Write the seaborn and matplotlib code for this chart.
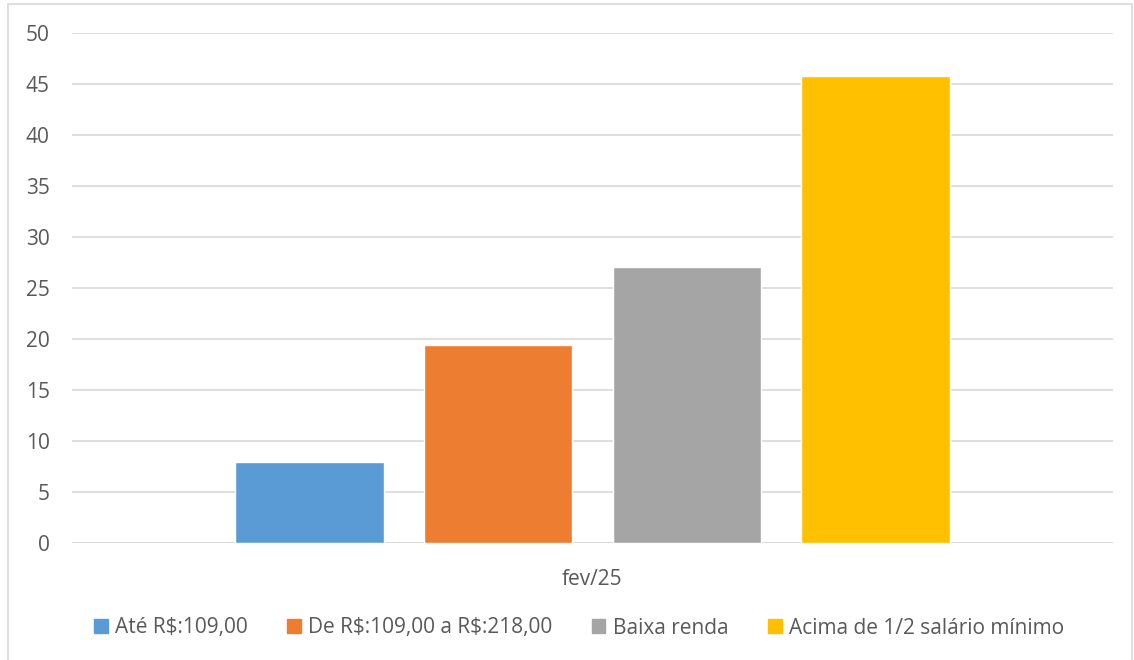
import pandas as pd
import matplotlib.pyplot as plt
import matplotlib.patches as mpatches
import seaborn as sns

# data
categories = ['fev/25']
series = ['Até R$:109,00', 'De R$:109,00 a R$:218,00', 'Baixa renda', 'Acima de 1/2 salário mínimo']
values = [7.9, 19.4, 27.1, 45.8]
colors = ['#5b9bd5', '#ed7d31', '#a5a5a5', '#ffc000']

df = pd.DataFrame({
    'periodo': categories * len(series),
    'serie': series,
    'valor': values,
})

sns.set_theme(style='white')
plt.rcParams['font.family'] = ['Open Sans', 'DejaVu Sans']
plt.rcParams['text.parse_math'] = False  # keep the "$" signs literal

fig = plt.figure(figsize=(11.34, 6.6), dpi=100)
ax = fig.add_axes([72 / 1134, 117 / 660, (1113 - 72) / 1134, (543 - 33) / 660])

sns.barplot(data=df, x='periodo', y='valor', hue='serie', hue_order=series,
            palette=colors, width=0.726, gap=0.212, saturation=1,
            legend=False, ax=ax)

ax.set_xlim(-0.5, 0.5)
ax.set_ylim(0, 50)
ax.set_yticks(range(0, 51, 5))
ax.yaxis.grid(True, color='#d9d9d9', linewidth=1.2)
ax.set_axisbelow(True)
for s in ax.spines.values():
    s.set_visible(False)
ax.axhline(0, color='#d9d9d9', linewidth=1.2, zorder=0)
ax.set_xlabel('')
ax.set_ylabel('')
ax.tick_params(axis='both', length=0, labelsize=15, labelcolor='#595959')
ax.tick_params(axis='y', pad=16)
ax.tick_params(axis='x', pad=19)

handles = [mpatches.Patch(color=c, label=s) for c, s in zip(colors, series)]
fig.legend(handles=handles, loc='center', bbox_to_anchor=(579 / 1134, 1 - 628 / 660),
           ncol=4, frameon=False, fontsize=15, labelcolor='#595959',
           handlelength=0.65, handleheight=0.65, handletextpad=0.35, columnspacing=1.9)

# light frame around the chart area (no bottom edge visible)
fig.patches.append(mpatches.Rectangle((8 / 1134, -0.05), 1124 / 1134, 1.05 - 4 / 660,
                                      transform=fig.transFigure, fill=False,
                                      edgecolor='#d9d9d9', linewidth=1.2))

fig.savefig('out.png', dpi=100)
